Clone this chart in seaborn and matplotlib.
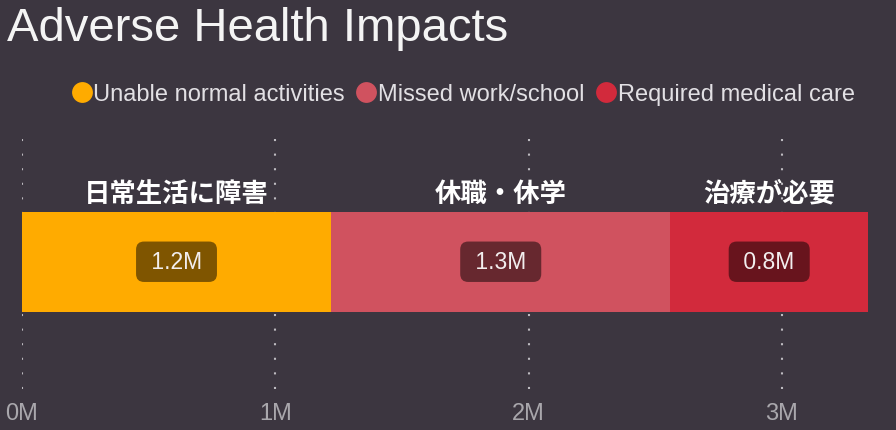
import matplotlib
matplotlib.use("Agg")
import matplotlib.pyplot as plt
from matplotlib.lines import Line2D
import seaborn as sns
import pandas as pd
import numpy as np

# ---- data ----
categories = ["Unable normal activities", "Missed work/school", "Required medical care"]
jp_labels = ["日常生活に障害", "休職・休学", "治療が必要"]
values_m = [1.22, 1.34, 0.78]          # millions
value_labels = ["1.2M", "1.3M", "0.8M"]
tick_values = [0, 1, 2, 3]
tick_labels = ["0M", "1M", "2M", "3M"]
colors = ["#FFAB00", "#D0525F", "#D22A3C"]

BG = "#3C3640"

sns.set_theme(style="dark")
plt.rcParams["font.family"] = ["Liberation Sans", "DejaVu Sans"]

fig = plt.figure(figsize=(8.96, 4.31), dpi=100, facecolor=BG)
ax = fig.add_axes([22/896, 1 - 390/431, (868 - 22)/896, (390 - 138)/431])
ax.set_facecolor(BG)

cum = np.cumsum(values_m)
starts = cum - np.array(values_m)
df = pd.DataFrame({"row": ["all"] * 3, "cum": cum, "cat": categories})

# draw cumulative bars from longest to shortest so that they stack visually
for i in reversed(range(len(categories))):
    sub = df.iloc[[i]]
    sns.barplot(data=sub, x="cum", y="row", orient="h", color=colors[i],
                width=0.8, ax=ax, saturation=1, edgecolor="none", zorder=2)

ax.set_xlim(0, cum[-1])
ax.set_ylim(1.02, -1.0)
ax.set_xticks(tick_values)
ax.set_xticklabels(tick_labels)
ax.set_yticks([])
ax.set_xlabel("")
ax.set_ylabel("")
for s in ax.spines.values():
    s.set_visible(False)
ax.grid(False)
for t in tick_values:
    ax.axvline(t, color="#BDBBC0", linestyle=(0, (1, 6)), linewidth=1.5, zorder=0)
ax.tick_params(axis="x", length=0, pad=9, labelsize=17, labelcolor="#A9A7AC")

# segment labels
for i in range(len(categories)):
    cx = starts[i] + values_m[i] / 2
    ax.text(cx, 0, " " + value_labels[i] + " ", ha="center", va="center", fontsize=16.5,
            color="#F2EEEE", zorder=5,
            bbox=dict(boxstyle="round,pad=0.38,rounding_size=0.35", fc="black",
                      alpha=0.5, ec="none"))
    ax.text(cx, -0.55, jp_labels[i], ha="center", va="center", fontsize=19,
            fontweight="bold", color="white", zorder=5,
            family=["Noto Sans CJK JP", "DejaVu Sans"])

# title
fig.text(7/896, 1 - 29/431, "Adverse Health Impacts", ha="left", va="center",
         fontsize=34, color="#F4F4F4")

# legend
handles = [Line2D([0], [0], marker="o", linestyle="none", markersize=15,
                  markerfacecolor=c, markeredgecolor="none") for c in colors]
leg = fig.legend(handles, categories, loc="center", bbox_to_anchor=(461/896, 1 - 95/431),
                 ncol=3, frameon=False, handletextpad=-0.1, columnspacing=0.3,
                 fontsize=17, labelcolor="#E2E0E4", handlelength=1.2)

fig.savefig("out.png", dpi=100, facecolor=BG)
